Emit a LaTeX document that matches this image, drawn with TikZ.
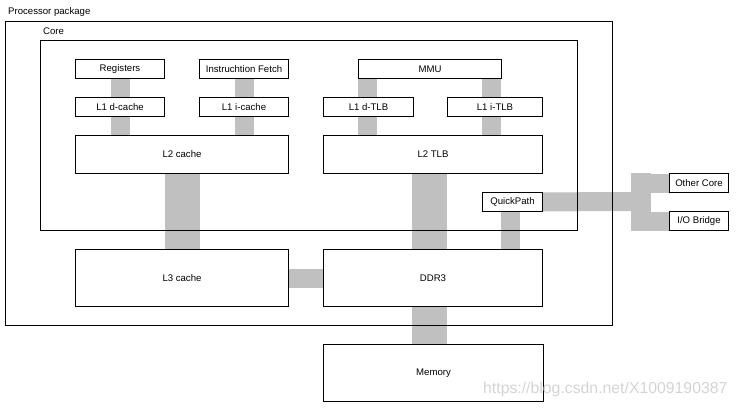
\documentclass[tikz,border=0pt]{standalone}
\usepackage{fontspec}
\setmainfont{Liberation Sans}
\usetikzlibrary{backgrounds,calc}
\definecolor{busgray}{RGB}{192,192,192}
\definecolor{wmgray}{RGB}{212,212,212}
\begin{document}
\begin{tikzpicture}[x=1bp,y=-1bp,
  box/.style={draw, fill=white, line width=1bp, inner sep=0pt, anchor=north west,
    font=\fontsize{9.6bp}{11bp}\selectfont},
  frame/.style={draw, line width=1bp, inner sep=0pt, anchor=north west},
  lbl/.style={anchor=west, inner sep=0pt, font=\fontsize{9.6bp}{11bp}\selectfont},
  bus/.style={draw=busgray, line width=19bp, line cap=butt},
  widebus/.style={draw=busgray, line width=35bp, line cap=butt}]
\useasboundingbox (0,0) rectangle (737,408);

% frames
\node[frame, minimum width=607bp, minimum height=304bp] (pkg) at (5,21) {};
\node[lbl] (pkglbl) at (8,12) {Processor package};
\node[frame, minimum width=537bp, minimum height=190bp] (core) at (40,40) {};
\node[lbl] (corelbl) at (43,31) {Core};

% boxes
\node[box, minimum width=89bp, minimum height=19bp] (reg) at (75,59) {Registers};
\node[box, minimum width=89bp, minimum height=19bp] (ifetch) at (199,59) {Instruchtion Fetch};
\node[box, minimum width=89bp, minimum height=19bp] (l1d) at (75,97) {L1 d-cache};
\node[box, minimum width=89bp, minimum height=19bp] (l1i) at (199,97) {L1 i-cache};
\node[box, minimum width=213bp, minimum height=38bp] (l2) at (75,135) {L2 cache};
\node[box, minimum width=143bp, minimum height=19bp] (mmu) at (358,59) {MMU};
\node[box, minimum width=90bp, minimum height=19bp] (l1dtlb) at (323,97) {L1 d-TLB};
\node[box, minimum width=95bp, minimum height=19bp] (l1itlb) at (447,97) {L1 i-TLB};
\node[box, minimum width=219bp, minimum height=38bp] (l2tlb) at (323,135) {L2 TLB};
\node[box, minimum width=60bp, minimum height=19bp] (qp) at (482,192) {QuickPath};
\node[box, minimum width=213bp, minimum height=57bp] (l3) at (75,249) {L3 cache};
\node[box, minimum width=219bp, minimum height=57bp] (ddr) at (323,249) {DDR3};
\node[box, minimum width=220bp, minimum height=57bp] (mem) at (323,344) {Memory};
\node[box, minimum width=59bp, minimum height=19bp] (oc) at (669,173) {Other Core};
\node[box, minimum width=59bp, minimum height=19bp] (iob) at (669,211) {I/O Bridge};

% helper coordinates for bar positions
\coordinate (mx1) at (367.5,68.5);
\coordinate (mx2) at (491.5,68.5);
\coordinate (dx) at (429.5,154);
\coordinate (qx) at (510.5,201.5);
\coordinate (tv) at (641,201.5);

% buses
\begin{scope}[on background layer]
  \draw[bus] (reg) -- (l2.center -| reg.center);
  \draw[bus] (ifetch) -- (l2.center -| ifetch.center);
  \draw[widebus] (l2) -- (l3);
  \draw[bus] (mx1) -- (mx1 |- l2tlb.center);
  \draw[bus] (mx2) -- (mx2 |- l2tlb.center);
  \draw[widebus] (dx) -- (dx |- mem.center);
  \draw[bus] (qx) -- (qx |- ddr.center);
  \draw[bus] (l3) -- (ddr);
  \draw[bus] (qp) -- (tv);
  \draw[draw=busgray, line width=20bp, line cap=butt] (tv |- oc.north) -- (tv |- iob.south);
  \draw[bus] (tv |- oc.center) -- (oc);
  \draw[bus] (tv |- iob.center) -- (iob);
\end{scope}

% watermark
\node[anchor=west, inner sep=0pt, text=wmgray, font=\fontsize{15.8bp}{18bp}\selectfont] (wm) at (483,389) {https://blog.csdn.net/X1009190387};
\end{tikzpicture}
\end{document}
